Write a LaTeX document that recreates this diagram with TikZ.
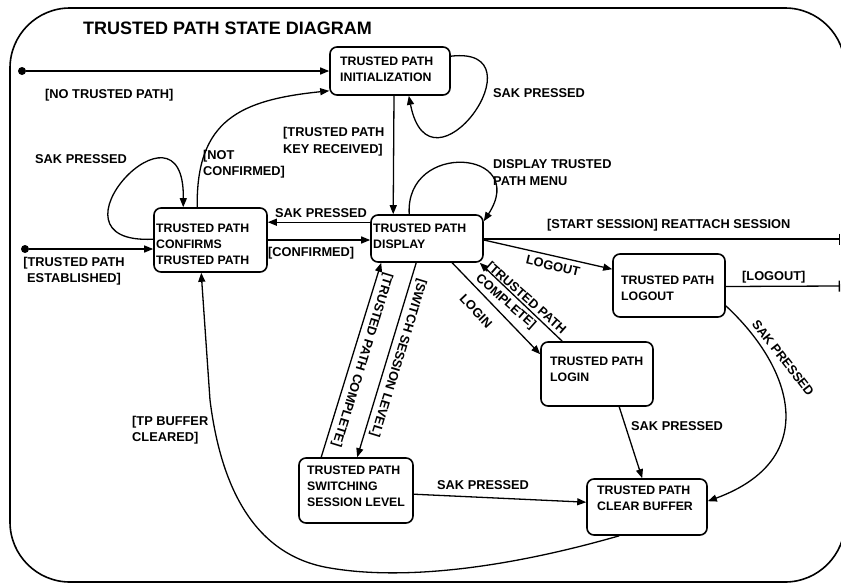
\documentclass[tikz,border=0pt]{standalone}
\usepackage{fontspec}
\setmainfont{Liberation Sans}
\usetikzlibrary{arrows.meta,calc}
\begin{document}
\begin{tikzpicture}[x=1pt,y=-1pt,
  st/.style={draw, line width=1.6pt, rounded corners=7pt, inner sep=0pt},
  btxt/.style={font=\fontsize{12.3}{16}\selectfont\bfseries, align=left, inner sep=0pt, anchor=west},
  lbl/.style={font=\fontsize{12.8}{16.5}\selectfont\bfseries, align=left, inner sep=0pt, anchor=west},
  rlbl/.style={font=\fontsize{12.8}{16}\selectfont\bfseries, align=left, inner sep=0pt, anchor=center},
  arr/.style={line width=1.3pt, -{Triangle[length=9pt,width=7pt]}},
  barend/.style={line width=1.3pt, -{Bar[width=11pt,line width=1.3pt]}},
  dot/.style={circle, fill, inner sep=0pt, minimum size=8pt},
  frame/.style={line width=1.6pt, rounded corners=60pt}
]
\useasboundingbox (0,0) rectangle (841,584);
\fill[white] (0,0) rectangle (841,584);
\clip (0,0) rectangle (841,584);
\draw[frame] (10,8) rectangle (845,582);

\node[font=\fontsize{18}{22}\selectfont\bfseries, inner sep=0pt, anchor=west] (title) at (83,28) {TRUSTED PATH STATE DIAGRAM};

% states
\node[st, minimum width=120pt, minimum height=48pt] (init) at (390,71) {};
\node[st, minimum width=113pt, minimum height=64pt] (conf) at (210.5,240) {};
\node[st, minimum width=112pt, minimum height=47pt] (disp) at (427,238.5) {};
\node[st, minimum width=112pt, minimum height=63pt] (logout) at (669,285.5) {};
\node[st, minimum width=112pt, minimum height=64pt] (login) at (597,374) {};
\node[st, minimum width=114pt, minimum height=65pt] (switch) at (356,490.5) {};
\node[st, minimum width=120pt, minimum height=56pt] (clear) at (647,507) {};

\node[btxt] (initT) at (340,69.5) {TRUSTED PATH\\INITIALIZATION};
\node[btxt] (confT) at (156,244) {TRUSTED PATH\\CONFIRMS\\TRUSTED PATH};
\node[btxt] (dispT) at (373,236.5) {TRUSTED PATH\\DISPLAY};
\node[btxt] (logoutT) at (621,288.5) {TRUSTED PATH\\LOGOUT};
\node[btxt] (loginT) at (550,369.5) {TRUSTED PATH\\LOGIN};
\node[btxt] (switchT) at (307,486) {TRUSTED PATH\\SWITCHING\\SESSION LEVEL};
\node[btxt] (clearT) at (597,498) {TRUSTED PATH\\CLEAR BUFFER};

% initial states
\node[dot] (s1) at (22,71) {};
\node[dot] (s2) at (25,249) {};
\coordinate (r1) at (840,239);
\coordinate (r2) at (840,286);

% connectors
\draw[arr] (s1) -- (init.west);
\draw[arr] (s2) -- (s2 -| conf.west);
\draw[arr] ($(conf.north west)+(0,32)$) .. controls (35,245) and (185,85) .. ($(conf.north west)+(30,0)$);
\draw[arr] ($(conf.north west)+(44,0)$) .. controls (196,120) and (240,100) .. ($(init.south west)+(0,-5)$);
\draw[arr] ($(init.south)+(4,0)$) -- ($(disp.north west)+(23,0)$);
\draw[arr] ($(init.north east)+(0,10)$) .. controls (545,45) and (430,205) .. ($(init.south east)+(-42,0)$);
\draw[arr] ($(disp.north west)+(39,0)$) .. controls (405,140) and (530,150) .. ($(disp.north east)+(0,7)$);
\draw[arr] ($(disp.north west)+(0,8)$) -- ($(conf.north east)+(0,15)$);
\draw[arr] (conf.east) -- (conf.east -| disp.west);
\draw[barend] ($(disp.east)+(0,0.5)$) -- (r1);
\draw[arr] ($(disp.east)+(0,1.5)$) -- ($(logout.north west)+(0,16)$);
\draw[barend] ($(logout.east)+(0,1)$) -- (r2);
\draw[arr] ($(disp.south west)+(82,0)$) -- ($(login.north west)+(0,13)$);
\draw[arr] ($(login.north west)+(22,0)$) -- ($(disp.south east)+(-4,0)$);
\draw[arr] ($(disp.south west)+(46,0)$) -- ($(switch.north west)+(59,0)$);
\draw[arr] ($(switch.north west)+(23,0)$) -- ($(disp.south west)+(11,0)$);
\draw[arr] ($(switch.north east)+(0,37)$) -- ($(clear.north west)+(0,24)$);
\draw[arr] ($(login.south west)+(79,0)$) -- ($(clear.north west)+(56,0)$);
\draw[arr] ($(logout.south east)+(0,-12)$) .. controls (795,370) and (820,460) .. ($(clear.north east)+(0,23)$);
\draw[arr] ($(clear.south west)+(33,0)$) .. controls (500,570) and (400,580) .. (330,568)
  .. controls (250,555) and (220,480) .. (210,400) -- ($(conf.south west)+(48,0)$);

% labels
\node[lbl] (l1) at (45,95) {[NO TRUSTED PATH]};
\node[rlbl, align=center] (l2) at (74,271) {[TRUSTED PATH\\ESTABLISHED]};
\node[lbl] (l3) at (35,159) {SAK PRESSED};
\node[lbl] (l4) at (203,164) {[NOT\\CONFIRMED]};
\node[lbl] (l5) at (283,141.5) {[TRUSTED PATH\\KEY RECEIVED]};
\node[lbl] (l6) at (493,93) {SAK PRESSED};
\node[lbl] (l7) at (493,172.5) {DISPLAY TRUSTED\\PATH MENU};
\node[lbl] (l8) at (275,213) {SAK PRESSED};
\node[lbl] (l9) at (268,253) {[CONFIRMED]};
\node[lbl] (l10) at (547,225) {[START SESSION] REATTACH SESSION};
\node[rlbl, rotate=-13.3] (l11) at (553,266) {LOGOUT};
\node[lbl] (l12) at (742,277) {[LOGOUT]};
\node[rlbl, rotate=-46.6] (l13) at (476,311) {LOGIN};
\node[rlbl, rotate=-41.4] (l14) at (520.5,304.5) {[TRUSTED PATH\\COMPLETE]};
\node[rlbl, rotate=-107] (l15) at (398,358) {[SWITCH SESSION LEVEL]};
\node[rlbl, rotate=-107] (l16) at (362,360) {[TRUSTED PATH COMPLETE]};
\node[lbl] (l17) at (437,485) {SAK PRESSED};
\node[lbl] (l18) at (631,426) {SAK PRESSED};
\node[rlbl, rotate=-52] (l19) at (783,358) {SAK PRESSED};
\node[lbl] (l20) at (132,430) {[TP BUFFER\\CLEARED]};
\end{tikzpicture}
\end{document}
